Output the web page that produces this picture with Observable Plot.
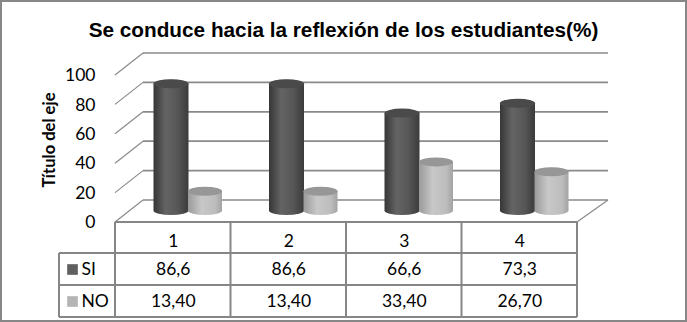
<!DOCTYPE html>
<html>
<head>
<meta charset="utf-8">
<script src="https://cdn.jsdelivr.net/npm/d3@7"></script>
<script src="https://cdn.jsdelivr.net/npm/@observablehq/plot@0.6"></script>
<style>
  html, body { margin: 0; padding: 0; background: #fff; }
  svg { display: block; }
</style>
</head>
<body>
<div id="chart"></div>
<script>
const chartTitle = "Se conduce hacia la reflexión de los estudiantes(%)";
const axisTitle = "Título del eje";
const categories = ["1", "2", "3", "4"];
const seriesNames = ["SI", "NO"];
const siValues = [86.6, 86.6, 66.6, 73.3];
const noValues = [13.40, 13.40, 33.40, 26.70];
const siLabels = ["86,6", "86,6", "66,6", "73,3"];
const noLabels = ["13,40", "13,40", "33,40", "26,70"];
const yTicks = [0, 20, 40, 60, 80, 100];

const data = categories.map((c, i) => ({cat: c, idx: i, si: siValues[i], no: noValues[i], siLabel: siLabels[i], noLabel: noLabels[i]}));

const GRID = "#8a8a8a";
const TABLE = "#868686";
const NUMFONT = "Lato, 'Open Sans', sans-serif";

// 3D walls, table grid and outer frame drawn with the plot's own scales
function scene(index, {x, y}) {
  const g = d3.create("svg:g");
  const defs = g.append("defs");
  const grad = (id, stops) => {
    const lg = defs.append("linearGradient").attr("id", id).attr("x1", 0).attr("x2", 1).attr("y1", 0).attr("y2", 0);
    stops.forEach(([o, c]) => lg.append("stop").attr("offset", o).attr("stop-color", c));
  };
  grad("gSI", [[0, "#363636"], [0.35, "#646464"], [0.7, "#565656"], [1, "#3b3b3b"]]);
  grad("gNO", [[0, "#9a9a9a"], [0.4, "#c8c8c8"], [0.8, "#bdbdbd"], [1, "#a3a3a3"]]);

  const x0 = x(0), x4 = x(categories.length);
  const front = 11, back = -11, dl = 28, dr = 31;
  for (const v of yTicks) {
    g.append("line").attr("x1", x0 + dl).attr("x2", x4 + dr).attr("y1", y(v) + back).attr("y2", y(v) + back)
      .attr("stroke", GRID).attr("stroke-width", 1.7);
    g.append("line").attr("x1", x0).attr("x2", x0 + dl).attr("y1", y(v) + front).attr("y2", y(v) + back)
      .attr("stroke", GRID).attr("stroke-width", 1.2);
  }
  g.append("line").attr("x1", x4).attr("x2", x4 + dr).attr("y1", y(0) + front).attr("y2", y(0) + back)
    .attr("stroke", GRID).attr("stroke-width", 1.2);

  const rowTop = y(0) + front, row1 = 253, row2 = 285, row3 = 317, legL = 59;
  const t = g.append("g").attr("stroke", TABLE).attr("stroke-width", 2);
  t.append("line").attr("x1", x0).attr("x2", x4).attr("y1", rowTop).attr("y2", rowTop);
  for (const yy of [row1, row2, row3])
    t.append("line").attr("x1", legL).attr("x2", x4).attr("y1", yy).attr("y2", yy);
  for (let i = 0; i <= categories.length; i++)
    t.append("line").attr("x1", x(i)).attr("x2", x(i)).attr("y1", rowTop).attr("y2", row3);
  t.append("line").attr("x1", legL).attr("x2", legL).attr("y1", row1).attr("y2", row3);

  g.append("rect").attr("x", 1).attr("y", 1).attr("width", 685).attr("height", 320)
    .attr("fill", "none").attr("stroke", "#878787").attr("stroke-width", 2);
  return g.node();
}

const legendSwatch = {SI: "#606060", NO: "#b5b5b5"};
const legendDy = {SI: 58, NO: 90};
const mid = {lineAnchor: "middle"};

const plot = Plot.plot({
  width: 687,
  height: 322,
  marginTop: 64,
  marginBottom: 111,
  marginLeft: 115,
  marginRight: 110,
  x: {type: "linear", domain: [0, categories.length], axis: null},
  y: {domain: [0, 100], axis: null},
  style: {background: "#fff", overflow: "visible"},
  marks: [
    scene,
    Plot.rect(data, {x1: d => d.idx, x2: d => d.idx + 1, y1: d => 0, y2: "si",
      insetLeft: 38.5, insetRight: 42, insetTop: -4, insetBottom: -4, rx: 17.5, ry: 4.5, fill: "url(#gSI)"}),
    Plot.rect(data, {x1: d => d.idx, x2: d => d.idx + 1, y1: "si", y2: "si",
      insetLeft: 38.5, insetRight: 42, insetTop: -4.5, insetBottom: -4.5, rx: 17.5, ry: 4.5, fill: "#4a4a4a"}),
    Plot.rect(data, {x1: d => d.idx, x2: d => d.idx + 1, y1: d => 0, y2: "no",
      insetLeft: 73, insetRight: 8.5, insetTop: -4, insetBottom: -4, rx: 17, ry: 4.5, fill: "url(#gNO)"}),
    Plot.rect(data, {x1: d => d.idx, x2: d => d.idx + 1, y1: "no", y2: "no",
      insetLeft: 73, insetRight: 8.5, insetTop: -4.5, insetBottom: -4.5, rx: 17, ry: 4.5, fill: "#979797"}),
    Plot.text(yTicks, {y: d => d, frameAnchor: "left", dx: -20, dy: 11, textAnchor: "end", ...mid, text: d => String(d),
      fontFamily: NUMFONT, fontSize: 17.5, fill: "#000"}),
    Plot.text([axisTitle], {frameAnchor: "left", dx: -66, dy: 2, rotate: -90, textAnchor: "middle", ...mid, text: d => d,
      fontFamily: "Lato, sans-serif", fontWeight: "bold", fontSize: 16.5, fill: "#000"}),
    Plot.text([chartTitle], {frameAnchor: "top", dx: -3, dy: -34, textAnchor: "middle", ...mid, text: d => d,
      fontFamily: "'Liberation Sans', Arial, sans-serif", fontWeight: "bold", fontSize: 20.5, fill: "#000"}),
    Plot.text(data, {x: d => d.idx + 0.5, frameAnchor: "bottom", dy: 30, textAnchor: "middle", ...mid, text: "cat",
      fontFamily: NUMFONT, fontSize: 17.5, fill: "#000"}),
    Plot.text(data, {x: d => d.idx + 0.5, frameAnchor: "bottom", dy: 58, textAnchor: "middle", ...mid, text: "siLabel",
      fontFamily: NUMFONT, fontSize: 17.5, fill: "#000"}),
    Plot.text(data, {x: d => d.idx + 0.5, frameAnchor: "bottom", dy: 90, textAnchor: "middle", ...mid, text: "noLabel",
      fontFamily: NUMFONT, fontSize: 17.5, fill: "#000"}),
    ...seriesNames.map(s => Plot.dot([s], {frameAnchor: "bottom-left", dx: -43, dy: legendDy[s], symbol: "square", r: 6,
      fill: legendSwatch[s], stroke: "none"})),
    ...seriesNames.map(s => Plot.text([s], {frameAnchor: "bottom-left", dx: -34, dy: legendDy[s], textAnchor: "start", ...mid, text: d => d,
      fontFamily: NUMFONT, fontSize: 17.5, fill: "#000"}))
  ]
});
document.getElementById("chart").appendChild(plot);

// fit the two titles to the reference widths
const fit = (str, target) => {
  d3.select(plot).selectAll("text").filter(function() { return this.textContent === str; }).each(function() {
    const len = this.getComputedTextLength();
    const fs = parseFloat(this.getAttribute("font-size") || getComputedStyle(this).fontSize);
    if (len > 0) this.setAttribute("font-size", (fs * target / len).toFixed(2));
  });
};
fit(chartTitle, 510);
fit(axisTitle, 95);
</script>
</body>
</html>
